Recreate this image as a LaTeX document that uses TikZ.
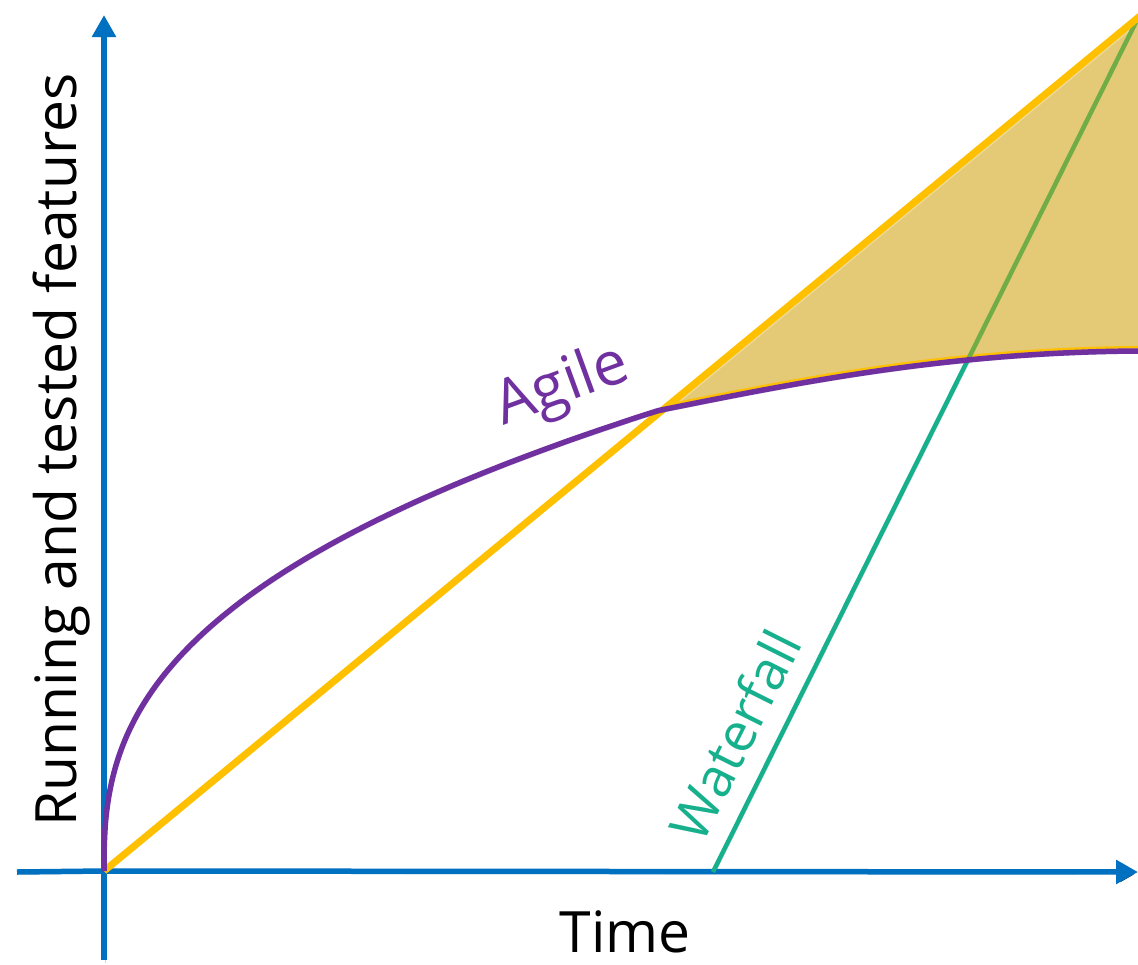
\documentclass[tikz,border=0pt]{standalone}
\usepackage{fontspec}
\setmainfont{Open Sans}
\usetikzlibrary{arrows.meta}
\definecolor{axisblue}{RGB}{0,112,192}
\definecolor{agilepurple}{RGB}{112,48,160}
\definecolor{lineyellow}{RGB}{255,192,0}
\definecolor{wfteal}{RGB}{22,176,140}
\definecolor{wfgreen}{RGB}{112,173,71}
\definecolor{gapfill}{RGB}{228,201,118}
\definecolor{gaplight}{RGB}{236,218,150}
\tikzset{
  shad/.style={preaction={draw=black,draw opacity=0.16,transform canvas={shift={(1.5pt,-2.5pt)}}}},
  axisline/.style={draw=axisblue,line width=5.5pt,shad,-{Triangle[length=22pt,width=23pt]}},
  axisplain/.style={draw=axisblue,line width=5.5pt,shad},
  agileline/.style={draw=agilepurple,line width=5.5pt,shad},
  yline/.style={draw=lineyellow,line width=7pt,shad},
  wfline/.style={draw=wfteal,line width=4.5pt,shad},
  lbl/.style={font=\fontsize{57}{64}\selectfont,inner sep=0pt}
}
\begin{document}
\begin{tikzpicture}[x=1pt,y=-1pt]
\useasboundingbox[fill=white] (0,0) rectangle (1138,964);
\coordinate (O) at (104,871);
\coordinate (ytop) at (104,15);
\coordinate (ybot) at (104,960);
\coordinate (xl) at (17,872);
\coordinate (xr) at (1138,872);
\coordinate (Yend) at (1140,16);
\coordinate (Ws) at (713,872);
\coordinate (We) at (1136,22);
% axes
\draw[axisplain] (O) -- (ybot);
\draw[axisline] (O) -- (ytop);
\draw[axisplain] (O) -- (xl);
\draw[axisline] (O) -- (xr);
% waterfall
\draw[wfline] (Ws) -- (We);
% filled gap between straight line and agile curve
\begin{scope}
  \clip (O) -- plot[domain=0.002:1,samples=120,variable=\u] ({104+556*\u^3},{871-461*\u^1.152}) .. controls (800,382) and (950,352) .. (1140,351) -- (1140,0) -- (104,0) -- cycle;
  \clip (O) -- (Yend) -- (1140,964) -- (104,964) -- cycle;
  \fill[gapfill] (0,0) rectangle (1138,964);
  \draw[gaplight,line width=10pt] (O) -- (Yend);
  \draw[lineyellow,line width=3pt,shift={(6.2,7.6)}] (O) -- (Yend);
  \draw[lineyellow,line width=2.5pt,shift={(0,-3.8)}] (O) -- plot[domain=0.002:1,samples=120,variable=\u] ({104+556*\u^3},{871-461*\u^1.152}) .. controls (800,382) and (950,352) .. (1140,351);
  \draw[wfgreen,line width=4.5pt] (Ws) -- (We);
\end{scope}
% straight yellow line
\draw[yline] (O) -- (Yend);
% agile curve
\draw[agileline] (O) -- plot[domain=0.002:1,samples=120,variable=\u] ({104+556*\u^3},{871-461*\u^1.152}) .. controls (800,382) and (950,352) .. (1140,351);
% labels
\node[lbl,anchor=base,rotate=90] (ylab) at (76,450) {Running and tested features};
\node[lbl,anchor=base] (xlab) at (625,952) {Time};
\node[lbl,anchor=base,rotate=20,text=agilepurple,font=\fontsize{61}{66}\selectfont] (agl) at (568,402) {Agile};
\node[lbl,anchor=base,rotate=63.4,text=wfteal,font=\fontsize{54}{60}\selectfont] (wfl) at (753,744) {Waterfall};
\end{tikzpicture}
\end{document}
